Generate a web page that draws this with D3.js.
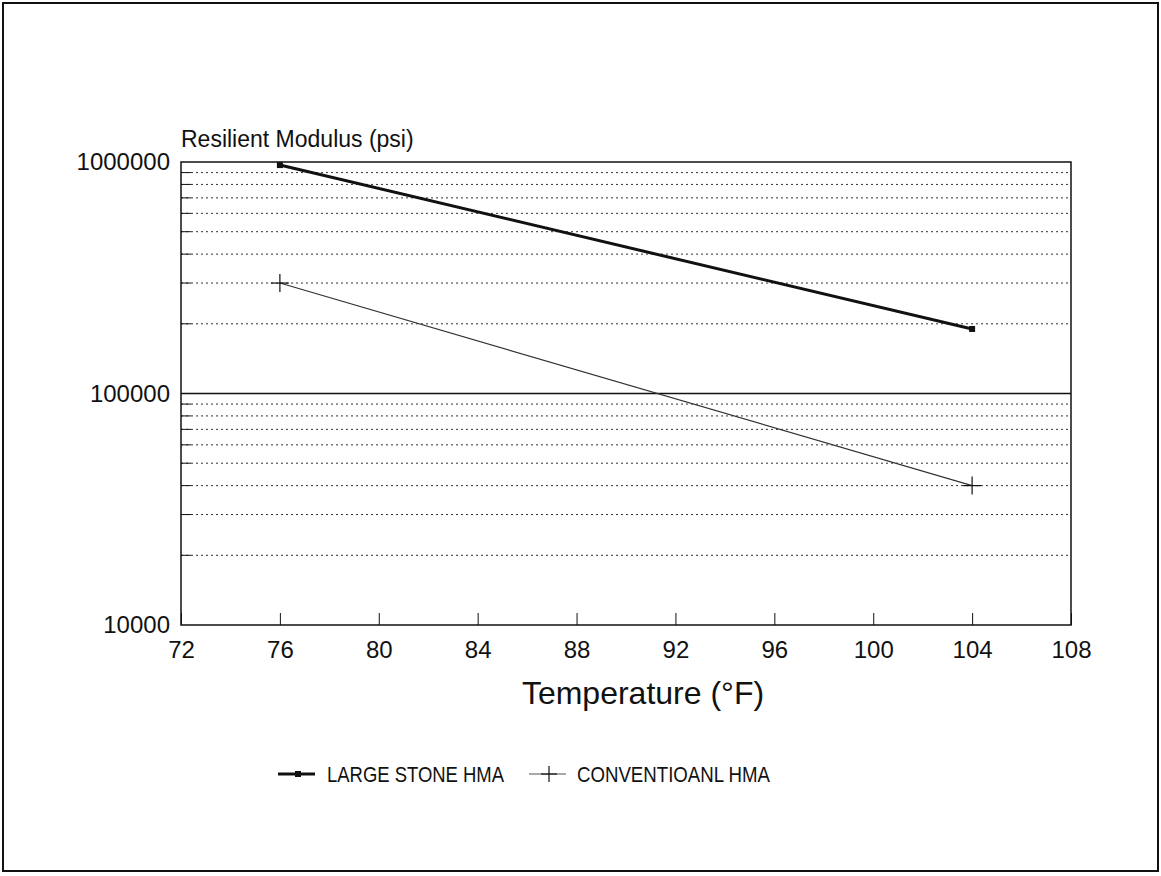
<!DOCTYPE html>
<html lang="en">
<head>
<meta charset="utf-8">
<title>Resilient Modulus vs Temperature</title>
<script src="https://d3js.org/d3.v7.min.js"></script>
<style>
  body { margin: 0; background: #fff; }
  text { font-family: "Liberation Sans", Arial, sans-serif; fill: #111; }
</style>
</head>
<body>
<script>
// data
var temps = [76, 104];
var largeStone = [970000, 190000];
var conventional = [300000, 40000];
var xTicks = [72, 76, 80, 84, 88, 92, 96, 100, 104, 108];
var yLabels = [10000, 100000, 1000000];
var seriesNames = ["LARGE STONE HMA", "CONVENTIOANL HMA"];

var W = 1161, H = 876;
var mLeft = 181, mRight = 1071, mTop = 162, mBottom = 625;

var svg = d3.select("body").append("svg")
  .attr("width", W)
  .attr("height", H);

// outer frame
svg.append("rect")
  .attr("x", 3).attr("y", 3)
  .attr("width", 1155).attr("height", 868)
  .attr("fill", "none").attr("stroke", "#111").attr("stroke-width", 2);

var x = d3.scaleLinear().domain([72, 108]).range([mLeft, mRight]);
var y = d3.scaleLog().domain([10000, 1000000]).range([mBottom, mTop]);

// minor grid (dotted)
var minor = [];
[10000, 100000].forEach(function(d) {
  for (var k = 2; k <= 9; k++) minor.push(d * k);
});

svg.append("g").selectAll("line")
  .data(minor)
  .enter().append("line")
  .attr("x1", mLeft).attr("x2", mRight)
  .attr("y1", function(d) { return y(d); })
  .attr("y2", function(d) { return y(d); })
  .attr("stroke", "#333")
  .attr("stroke-width", 1)
  .attr("stroke-dasharray", "2,3");

// small left ticks at minor values
svg.append("g").selectAll("line")
  .data(minor)
  .enter().append("line")
  .attr("x1", mLeft).attr("x2", mLeft + 10)
  .attr("y1", function(d) { return y(d); })
  .attr("y2", function(d) { return y(d); })
  .attr("stroke", "#111");

// solid decade line
svg.append("line")
  .attr("x1", mLeft).attr("x2", mRight)
  .attr("y1", y(100000)).attr("y2", y(100000))
  .attr("stroke", "#111").attr("stroke-width", 1.5);

// plot frame
svg.append("rect")
  .attr("x", mLeft).attr("y", mTop)
  .attr("width", mRight - mLeft).attr("height", mBottom - mTop)
  .attr("fill", "none").attr("stroke", "#111").attr("stroke-width", 1.5);

// x axis
var xAxis = d3.axisBottom(x)
  .tickValues(xTicks)
  .tickSize(-12)
  .tickPadding(16)
  .tickFormat(d3.format("d"));

var gx = svg.append("g")
  .attr("transform", "translate(0," + mBottom + ")")
  .call(xAxis);
gx.select(".domain").remove();
gx.selectAll("line").attr("stroke", "#111");
gx.selectAll("text")
  .style("font-size", "24px")
  .style("font-family", "Liberation Sans, Arial, sans-serif")
  .attr("fill", "#111");

// y axis labels
var yAxis = d3.axisLeft(y)
  .tickValues(yLabels)
  .tickSize(0)
  .tickPadding(11)
  .tickFormat(d3.format("d"));

var gy = svg.append("g")
  .attr("transform", "translate(" + mLeft + ",0)")
  .call(yAxis);
gy.select(".domain").remove();
gy.selectAll("text")
  .style("font-size", "24px")
  .style("font-family", "Liberation Sans, Arial, sans-serif")
  .attr("fill", "#111");

// axis titles
svg.append("text")
  .attr("x", mLeft).attr("y", 147)
  .style("font-size", "23px")
  .text("Resilient Modulus (psi)");

svg.append("text")
  .attr("x", 643).attr("y", 704)
  .attr("text-anchor", "middle")
  .style("font-size", "32px")
  .text("Temperature (\u00B0F)");

// series
var line = d3.line()
  .x(function(d) { return x(d[0]); })
  .y(function(d) { return y(d[1]); });

var lsData = d3.zip(temps, largeStone);
var cvData = d3.zip(temps, conventional);

svg.append("path")
  .datum(lsData)
  .attr("d", line)
  .attr("fill", "none")
  .attr("stroke", "#111")
  .attr("stroke-width", 3);

svg.selectAll(".lsm")
  .data(lsData)
  .enter().append("rect")
  .attr("x", function(d) { return x(d[0]) - 3; })
  .attr("y", function(d) { return y(d[1]) - 3; })
  .attr("width", 6).attr("height", 6)
  .attr("fill", "#111");

svg.append("path")
  .datum(cvData)
  .attr("d", line)
  .attr("fill", "none")
  .attr("stroke", "#333")
  .attr("stroke-width", 1.2);

function cross(g, cx, cy, s) {
  g.append("line").attr("x1", cx - s).attr("x2", cx + s)
    .attr("y1", cy).attr("y2", cy).attr("stroke", "#111").attr("stroke-width", 1.2);
  g.append("line").attr("x1", cx).attr("x2", cx)
    .attr("y1", cy - s).attr("y2", cy + s).attr("stroke", "#111").attr("stroke-width", 1.2);
}
cvData.forEach(function(d) { cross(svg, x(d[0]), y(d[1]), 9); });

// legend
var ly = 774;
var leg = svg.append("g");
leg.append("line")
  .attr("x1", 278).attr("x2", 315).attr("y1", ly).attr("y2", ly)
  .attr("stroke", "#111").attr("stroke-width", 3);
leg.append("rect")
  .attr("x", 295).attr("y", ly - 3).attr("width", 6).attr("height", 6)
  .attr("fill", "#111");
leg.append("text")
  .attr("x", 327).attr("y", ly + 8)
  .attr("textLength", 177).attr("lengthAdjust", "spacingAndGlyphs")
  .style("font-size", "22px")
  .text(seriesNames[0]);

leg.append("line")
  .attr("x1", 529).attr("x2", 566).attr("y1", ly).attr("y2", ly)
  .attr("stroke", "#555").attr("stroke-width", 1.2);
cross(leg, 549, ly, 8);
leg.append("text")
  .attr("x", 577).attr("y", ly + 8)
  .attr("textLength", 193).attr("lengthAdjust", "spacingAndGlyphs")
  .style("font-size", "22px")
  .text(seriesNames[1]);
</script>
</body>
</html>
